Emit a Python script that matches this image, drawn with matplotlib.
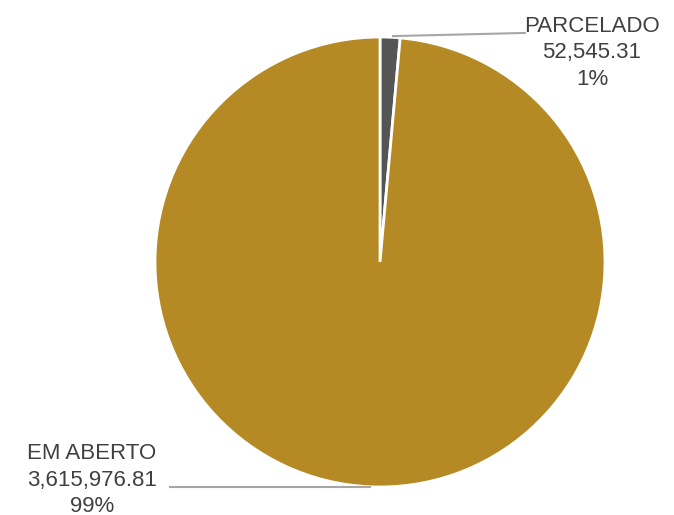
import numpy as np
import matplotlib
matplotlib.use("Agg")
import matplotlib.pyplot as plt

plt.rcParams['font.family'] = ['Liberation Sans', 'DejaVu Sans']

categories = ['PARCELADO', 'EM ABERTO']
values = [52545.31, 3615976.81]
colors = ['#555555', '#B58A24']

fig = plt.figure(figsize=(6.74, 5.15), dpi=100)
ax = fig.add_axes([155 / 674, 28 / 515, 450 / 674, 450 / 515])

ax.pie(values, colors=colors, startangle=90, counterclock=False,
       wedgeprops=dict(edgecolor='white', linewidth=2))
ax.set_xlim(-1, 1)
ax.set_ylim(-1, 1)
ax.set_aspect('equal')

total = sum(values)
labels = [f"{c}\n{v:,.2f}\n{round(v / total * 100)}%" for c, v in zip(categories, values)]

# label positions and leader lines (data units, radius = 1)
text_pos = [(0.942, 0.93), (-1.28, -0.97)]
line_pts = [((0.058, 1.004), (0.644, 1.018)), ((-0.044, -1.0), (-0.933, -1.0))]

for lab, (tx, ty), (p0, p1) in zip(labels, text_pos, line_pts):
    ax.plot([p0[0], p1[0]], [p0[1], p1[1]], color='#A6A6A6', lw=1.5, clip_on=False)
    ax.text(tx, ty, lab, ha='center', va='center', fontsize=16,
            color='#404040', linespacing=1.35, clip_on=False)

fig.savefig('out.png', dpi=100)
